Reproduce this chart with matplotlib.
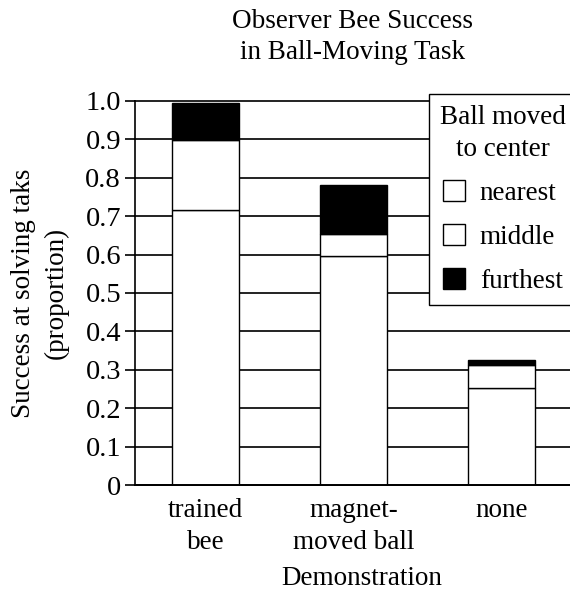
import numpy as np
import matplotlib
matplotlib.use("Agg")
import matplotlib.pyplot as plt
from matplotlib.patches import Patch

# data (cumulative tops converted to segment heights)
groups = ["trained\nbee", "magnet-\nmoved ball", "none"]
nearest = [0.716, 0.597, 0.253]
middle = [0.182, 0.056, 0.060]
furthest = [0.096, 0.128, 0.012]
series_labels = ["nearest", "middle", "furthest"]
yticks = [0, 0.1, 0.2, 0.3, 0.4, 0.5, 0.6, 0.7, 0.8, 0.9, 1.0]
ytick_labels = ["0", "0.1", "0.2", "0.3", "0.4", "0.5", "0.6", "0.7", "0.8", "0.9", "1.0"]

plt.rcParams['font.family'] = ['Liberation Serif', 'DejaVu Serif']
fs = 19.5

fig = plt.figure(figsize=(5.70, 5.94), dpi=100)
ax = fig.add_axes([0.2368, 0.1835, 0.7632, 0.6465])

x = np.arange(len(groups))
w = 0.453
# grid first so bars sit on top
ax.set_axisbelow(True)
ax.yaxis.grid(True, color='#222222', linewidth=1.4)

ax.bar(x, nearest, w, color='white', edgecolor='black', linewidth=1.0)
ax.bar(x, middle, w, bottom=nearest, color='white', edgecolor='black', linewidth=1.0)
bot3 = np.array(nearest) + np.array(middle)
ax.bar(x, furthest, w, bottom=bot3, color='black', edgecolor='black', linewidth=1.0)

ax.set_xlim(-0.476, 2.463)
ax.set_ylim(0, 1.0)
ax.set_yticks(yticks)
ax.set_yticklabels(ytick_labels, fontsize=20.5)
ax.set_xticks(x)
ax.set_xticklabels(groups, fontsize=fs, linespacing=1.4)
ax.tick_params(axis='x', length=0, pad=9)
ax.tick_params(axis='y', length=7, width=1.2, pad=3, direction='out')
for s in ['top', 'right']:
    ax.spines[s].set_visible(False)
ax.spines['left'].set_linewidth(1.2)
ax.spines['bottom'].set_linewidth(1.4)
for gl in ax.get_ygridlines():
    gl.set_clip_on(False)

ax.set_ylabel("Success at solving taks\n(proportion)", fontsize=fs, linespacing=1.4, labelpad=12)
ax.set_xlabel("Demonstration", fontsize=fs, labelpad=8)
ax.xaxis.label.set_x(0.522)
ax.set_title("Observer Bee Success\nin Ball-Moving Task", fontsize=fs, linespacing=1.35, pad=30)

handles = [Patch(facecolor='white', edgecolor='black', linewidth=1.0),
           Patch(facecolor='white', edgecolor='black', linewidth=1.0),
           Patch(facecolor='black', edgecolor='black', linewidth=1.0)]
leg = ax.legend(handles, series_labels, title="Ball moved\nto center", fontsize=fs,
                title_fontsize=fs, loc='upper left', bbox_to_anchor=(0.676, 1.018),
                frameon=True, fancybox=False, framealpha=1, edgecolor='black',
                handlelength=0.8, handleheight=0.8, handletextpad=0.55,
                labelspacing=0.68, borderpad=0.4, borderaxespad=0)
leg.get_frame().set_linewidth(1.0)
leg.get_title().set_multialignment('center')
leg.get_title().set_linespacing(1.35)

fig.savefig("out.png", dpi=100)
